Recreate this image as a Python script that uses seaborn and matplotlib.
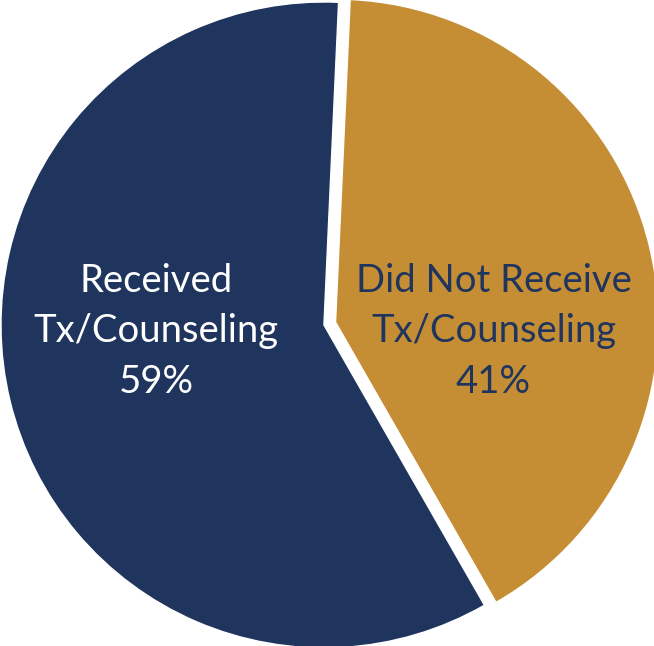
import matplotlib
matplotlib.use("Agg")
import matplotlib.pyplot as plt
import seaborn as sns

# données
categories = ["Did Not Receive\nTx/Counseling", "Received\nTx/Counseling"]
pourcentages = [41, 59]
couleurs = ["#C68E34", "#1F355E"]
couleurs_texte = ["#1F355E", "white"]

sns.set_style("white")
plt.rcParams['font.family'] = ['Lato', 'DejaVu Sans']

fig = plt.figure(figsize=(6.54, 6.46), dpi=100)
ax = fig.add_axes([0, 0, 1, 1])

wedges, _ = ax.pie(
    pourcentages,
    colors=couleurs,
    startangle=87.4,
    counterclock=False,
    explode=[0.037, 0],
    radius=1,
    wedgeprops=dict(edgecolor="white", linewidth=1),
)

# étiquettes au centre de chaque moitié
positions = [(0.525, -0.02), (-0.52, -0.02)]
for (x, y), cat, pct, c in zip(positions, categories, pourcentages, couleurs_texte):
    ax.text(x, y, f"{cat}\n{pct}%", ha="center", va="center",
            color=c, fontsize=27.5, linespacing=1.5)

ax.set_xlim(-1.003, 1.022)
ax.set_ylim(-0.994, 1.006)
ax.set_aspect("equal")
ax.axis("off")

fig.savefig("out.png", dpi=100)
